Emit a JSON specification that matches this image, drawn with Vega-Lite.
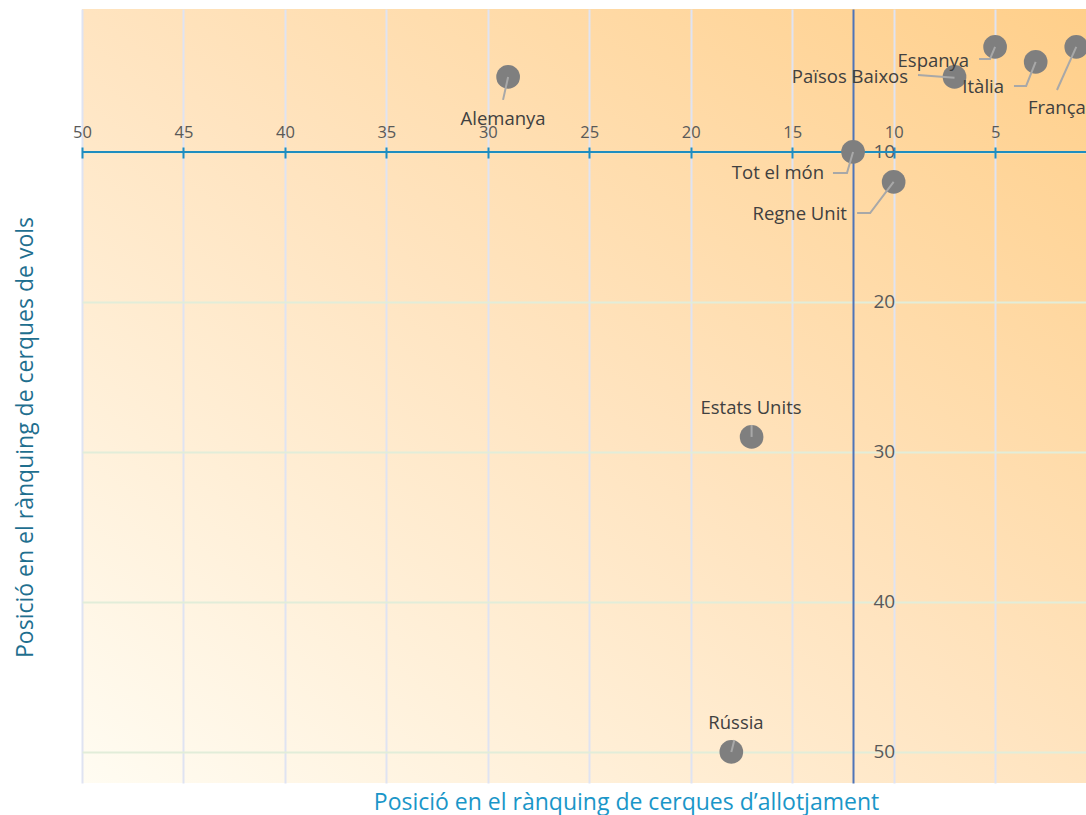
{
  "$schema": "https://vega.github.io/schema/vega-lite/v6.json",
  "autosize": "none",
  "width": 1004,
  "height": 774,
  "padding": {"left": 82, "top": 9, "right": 0, "bottom": 32},
  "background": "white",
  "datasets": {
    "points": [
      {"pais": "Alemanya", "allot": 29, "vols": 5, "lx": 29.25, "ly": 7.8},
      {"pais": "Espanya", "allot": 5, "vols": 3, "lx": 6.28, "ly": 3.93},
      {"pais": "Països Baixos", "allot": 7, "vols": 5, "lx": 9.29, "ly": 5.0},
      {"pais": "Itàlia", "allot": 3, "vols": 4, "lx": 4.56, "ly": 5.67},
      {"pais": "França", "allot": 1, "vols": 3, "lx": 3.38, "ly": 7.07},
      {"pais": "Tot el món", "allot": 12, "vols": 10, "lx": 13.43, "ly": 11.4},
      {"pais": "Regne Unit", "allot": 10, "vols": 12, "lx": 12.3, "ly": 14.13},
      {"pais": "Estats Units", "allot": 17, "vols": 29, "lx": 17.03, "ly": 27.07},
      {"pais": "Rússia", "allot": 18, "vols": 50, "lx": 17.77, "ly": 48.07}
    ],
    "leaders": [
      {"pais": "Alemanya", "seq": 0, "x": 29, "y": 5},
      {"pais": "Alemanya", "seq": 1, "x": 29.25, "y": 6.53},
      {"pais": "Espanya", "seq": 0, "x": 5, "y": 3},
      {"pais": "Espanya", "seq": 1, "x": 5.25, "y": 3.8},
      {"pais": "Espanya", "seq": 2, "x": 5.79, "y": 3.8},
      {"pais": "Països Baixos", "seq": 0, "x": 7, "y": 5.05},
      {"pais": "Països Baixos", "seq": 1, "x": 8.8, "y": 4.87},
      {"pais": "Itàlia", "seq": 0, "x": 3, "y": 4},
      {"pais": "Itàlia", "seq": 1, "x": 3.47, "y": 5.6},
      {"pais": "Itàlia", "seq": 2, "x": 4.07, "y": 5.6},
      {"pais": "França", "seq": 0, "x": 1, "y": 3},
      {"pais": "França", "seq": 1, "x": 1.95, "y": 5.87},
      {"pais": "Tot el món", "seq": 0, "x": 12, "y": 10},
      {"pais": "Tot el món", "seq": 1, "x": 12.3, "y": 11.4},
      {"pais": "Tot el món", "seq": 2, "x": 12.99, "y": 11.4},
      {"pais": "Regne Unit", "seq": 0, "x": 10, "y": 12},
      {"pais": "Regne Unit", "seq": 1, "x": 11.16, "y": 14.07},
      {"pais": "Regne Unit", "seq": 2, "x": 11.8, "y": 14.07},
      {"pais": "Estats Units", "seq": 0, "x": 17, "y": 29},
      {"pais": "Estats Units", "seq": 1, "x": 17, "y": 28.2},
      {"pais": "Rússia", "seq": 0, "x": 18, "y": 50},
      {"pais": "Rússia", "seq": 1, "x": 17.85, "y": 49.2}
    ]
  },
  "layer": [
    {
      "data": {"name": "points"},
      "mark": {"type": "rule", "color": "#1f8dbf", "strokeWidth": 2},
      "encoding": {
        "y": {"datum": 10, "type": "quantitative", "axis": null}
      }
    },
    {
      "data": {"name": "points"},
      "mark": {"type": "circle", "size": 560, "color": "#7f7f7f", "opacity": 1},
      "encoding": {
        "x": {
          "field": "allot", "type": "quantitative",
          "scale": {"domain": [0.52, 50], "reverse": true, "nice": false, "zero": false},
          "axis": {
            "orient": "bottom", "grid": true, "gridColor": "#dfe3f2", "gridWidth": 2,
            "values": [5, 10, 15, 20, 25, 30, 35, 40, 45, 50],
            "labels": false, "ticks": false, "domain": false,
            "title": "Posició en el rànquing de cerques d’allotjament",
            "titleColor": "#1a96c8", "titleFontSize": 23, "titleFont": "Open Sans",
            "titleFontWeight": "normal", "titleX": 544, "titleY": 19,
            "titleBaseline": "middle", "titleAlign": "center", "titleAngle": 0
          }
        },
        "y": {
          "field": "vols", "type": "quantitative",
          "scale": {"domain": [0.47, 52.07], "reverse": true, "nice": false, "zero": false},
          "axis": {
            "orient": "left", "grid": true, "gridColor": "#e2edd9", "gridWidth": 2,
            "values": [10, 20, 30, 40, 50],
            "labels": false, "ticks": false, "domain": false,
            "title": "Posició en el rànquing de cerques de vols",
            "titleColor": "#1f6f8f", "titleFontSize": 23, "titleFont": "Open Sans",
            "titleFontWeight": "normal", "titleX": -57, "titleY": 428,
            "titleAngle": 270, "titleBaseline": "middle", "titleAlign": "center"
          }
        }
      }
    },
    {
      "data": {"name": "leaders"},
      "mark": {"type": "line", "color": "#a8a8a8", "strokeWidth": 2},
      "encoding": {
        "x": {
          "field": "x", "type": "quantitative",
          "axis": {
            "orient": "top", "offset": -149, "grid": false, "domain": false,
            "ticks": true, "tickSize": 11, "tickColor": "#1f8dbf", "tickWidth": 2,
            "values": [5, 10, 15, 20, 25, 30, 35, 40, 45, 50],
            "labelFlush": false, "labelOverlap": false,
            "labelPadding": 7, "labelFontSize": 16.5, "labelFont": "Open Sans",
            "labelColor": "#595959", "title": null
          }
        },
        "y": {
          "field": "y", "type": "quantitative",
          "axis": {
            "orient": "right", "offset": -233, "grid": false, "domain": true,
            "domainColor": "#4f74b8", "domainWidth": 2, "ticks": false,
            "values": [10, 20, 30, 40, 50],
            "labelFlush": false, "labelOverlap": false,
            "labelPadding": 20, "labelFontSize": 19, "labelFont": "Open Sans",
            "labelColor": "#595959", "labelBaseline": "middle", "title": null
          }
        },
        "detail": {"field": "pais"},
        "order": {"field": "seq"}
      }
    },
    {
      "data": {"name": "points"},
      "transform": [{"filter": {"field": "pais", "oneOf": ["Espanya", "Països Baixos", "Itàlia", "Tot el món", "Regne Unit"]}}],
      "mark": {"type": "text", "align": "right", "baseline": "middle", "font": "Open Sans", "fontSize": 18.5, "color": "#404040"},
      "encoding": {
        "x": {"field": "lx", "type": "quantitative", "axis": null},
        "y": {"field": "ly", "type": "quantitative", "axis": null},
        "text": {"field": "pais"}
      }
    },
    {
      "data": {"name": "points"},
      "transform": [{"filter": {"field": "pais", "oneOf": ["França"]}}],
      "mark": {"type": "text", "align": "left", "baseline": "middle", "font": "Open Sans", "fontSize": 18.5, "color": "#404040"},
      "encoding": {
        "x": {"field": "lx", "type": "quantitative", "axis": null},
        "y": {"field": "ly", "type": "quantitative", "axis": null},
        "text": {"field": "pais"}
      }
    },
    {
      "data": {"name": "points"},
      "transform": [{"filter": {"field": "pais", "oneOf": ["Alemanya", "Estats Units", "Rússia"]}}],
      "mark": {"type": "text", "align": "center", "baseline": "middle", "font": "Open Sans", "fontSize": 18.5, "color": "#404040"},
      "encoding": {
        "x": {"field": "lx", "type": "quantitative", "axis": null},
        "y": {"field": "ly", "type": "quantitative", "axis": null},
        "text": {"field": "pais"}
      }
    }
  ],
  "resolve": {"axis": {"x": "independent", "y": "independent"}},
  "config": {
    "view": {
      "stroke": null,
      "fill": {
        "gradient": "linear", "x1": 0, "y1": 1, "x2": 1, "y2": 0,
        "stops": [
          {"offset": 0, "color": "#fffcf2"},
          {"offset": 0.5, "color": "#ffe4c0"},
          {"offset": 1, "color": "#ffcf8a"}
        ]
      }
    }
  }
}
